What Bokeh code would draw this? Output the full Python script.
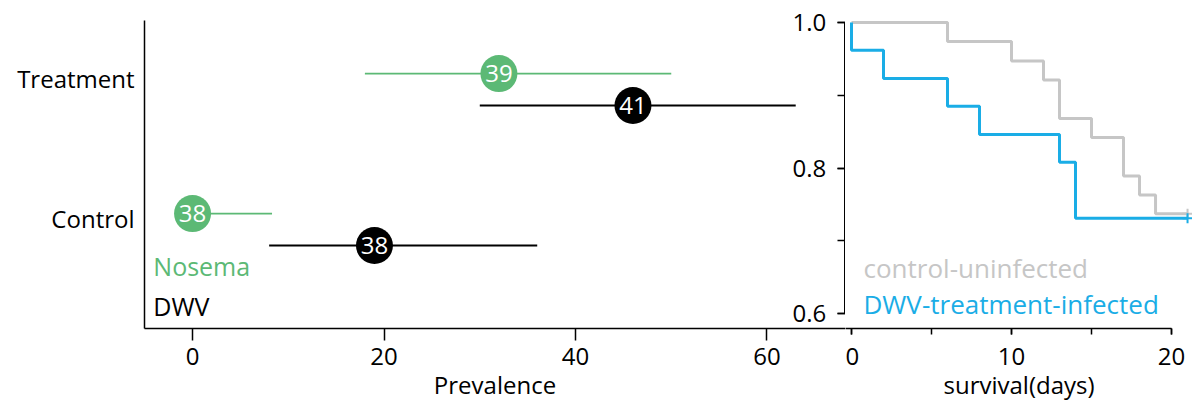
from bokeh.plotting import figure
from bokeh.models import Range1d, LinearAxis, FixedTicker, Label, ColumnDataSource, PrintfTickFormatter
from bokeh.layouts import row
from bokeh.embed import file_html
from bokeh.resources import INLINE
from bokeh.core.properties import value

# ---------------- data ----------------
groups = ["Treatment", "Control"]
group_pos = [2, 1]
nosema_mean = [32, 0]
nosema_lo = [18, 0]
nosema_hi = [50, 8.3]
nosema_n = ["39", "38"]
dwv_mean = [46, 19]
dwv_lo = [30, 8]
dwv_hi = [63, 36]
dwv_n = ["41", "38"]
prev_ticks = [0, 20, 40, 60]

ctrl_days = [0, 6, 10, 12, 13, 15, 17, 18, 19, 21]
ctrl_surv = [1.0, 0.974, 0.947, 0.921, 0.868, 0.842, 0.789, 0.763, 0.737, 0.737]
dwv_days = [0, 0, 2, 6, 8, 13, 14, 21]
dwv_surv = [1.0, 0.962, 0.923, 0.885, 0.846, 0.808, 0.731, 0.731]
surv_ticks = [0.6, 0.8, 1.0]
surv_minor = [0.6, 0.7, 0.8, 0.9, 1.0]
day_ticks = [0, 10, 20]
day_minor = [0, 5, 10, 15, 20]

GREEN = "#5cb975"
BLUE = "#1aade6"
GRAY = "#c6c6c6"
FONT = "Open Sans"
DODGE = 0.114
H = 403
BB = 75

# ---------------- left panel ----------------
pA = figure(width=845, height=H, x_range=Range1d(-5.02, 68.2), y_range=Range1d(0.293, 2.493),
            output_backend="svg", toolbar_location=None,
            min_border_left=144, min_border_right=0, min_border_top=20, min_border_bottom=BB)
pA.outline_line_color = None
pA.grid.visible = False

yg = [g + DODGE for g in group_pos]
yb = [g - DODGE for g in group_pos]
src_n = ColumnDataSource(dict(m=nosema_mean, lo=nosema_lo, hi=nosema_hi, y=yg, n=nosema_n))
src_d = ColumnDataSource(dict(m=dwv_mean, lo=dwv_lo, hi=dwv_hi, y=yb, n=dwv_n))

for src, col in ((src_n, GREEN), (src_d, "black")):
    pA.segment(x0="lo", x1="hi", y0="y", y1="y", source=src, line_color=col, line_width=1.8)
    pA.scatter(x="m", y="y", source=src, size=37, fill_color=col, line_color=None)
    pA.text(x="m", y="y", text="n", source=src, text_color="white", text_align="center",
            text_baseline="middle", text_font=value(FONT), text_font_size="24px")

xa = pA.xaxis[0]
xa.ticker = FixedTicker(ticks=prev_ticks)
xa.axis_label = "Prevalence"
xa.axis_label_text_font = FONT
xa.axis_label_text_font_style = "normal"
xa.axis_label_text_font_size = "24px"
xa.axis_label_text_color = "black"
xa.axis_label_standoff = 0
xa.major_label_text_font = FONT
xa.major_label_text_font_size = "24px"
xa.major_label_text_color = "black"
xa.major_label_standoff = 7
xa.major_tick_out = 12
xa.major_tick_in = 0
xa.minor_tick_out = 0
xa.minor_tick_in = 0
xa.axis_line_width = 1.5
xa.major_tick_line_width = 1.5

ya = pA.yaxis[0]
ya.ticker = FixedTicker(ticks=[g + 0.08 for g in group_pos])
ya.major_label_overrides = {g + 0.08: name for g, name in zip(group_pos, groups)}
ya.major_label_text_font = FONT
ya.major_label_text_font_size = "24px"
ya.major_label_text_color = "black"
ya.major_label_standoff = 10
ya.major_tick_out = 0
ya.major_tick_in = 0
ya.minor_tick_out = 0
ya.minor_tick_in = 0
ya.axis_line_width = 1.5

pA.add_layout(Label(x=-4.1, y=0.743, text="Nosema", text_color=GREEN, text_font=FONT,
                    text_font_size="25px", text_baseline="middle"))
pA.add_layout(Label(x=-4.1, y=0.457, text="DWV", text_color="black", text_font=FONT,
                    text_font_size="25px", text_baseline="middle"))

# survival y axis (shared range) on the right edge of the left figure
surv_range = Range1d(0.5794, 1.00275)
pA.extra_y_ranges = {"surv": surv_range}
sa = LinearAxis(y_range_name="surv", ticker=FixedTicker(ticks=surv_ticks, minor_ticks=surv_minor),
                formatter=PrintfTickFormatter(format="%.1f"), bounds=(0.6, 1.0))
sa.major_label_text_font = FONT
sa.major_label_text_font_size = "24px"
sa.major_label_text_color = "black"
sa.major_label_standoff = -53
sa.major_tick_in = 8
sa.major_tick_out = 0
sa.minor_tick_in = 8
sa.minor_tick_out = 0
sa.axis_line_width = 3
sa.axis_line_color = "black"
sa.major_tick_line_width = 1.5
sa.minor_tick_line_width = 1.5
sa.minor_tick_line_color = "black"
pA.add_layout(sa, "right")

# ---------------- right panel ----------------
pB = figure(width=347, height=H, x_range=Range1d(-0.375, 21.31), y_range=surv_range,
            output_backend="svg", toolbar_location=None, y_axis_location=None,
            min_border_left=0, min_border_right=0, min_border_top=20, min_border_bottom=BB)
pB.outline_line_color = None
pB.grid.visible = False
pB.background_fill_color = None
pB.border_fill_color = None

pB.step(x=ctrl_days, y=ctrl_surv, mode="after", line_color=GRAY, line_width=3)
pB.scatter(x=[ctrl_days[-1]], y=[ctrl_surv[-1]], marker="cross", size=10, line_color=GRAY, line_width=2)
pB.step(x=dwv_days, y=dwv_surv, mode="after", line_color=BLUE, line_width=3)
pB.scatter(x=[dwv_days[-1]], y=[dwv_surv[-1]], marker="cross", size=10, line_color=BLUE, line_width=2)

xb = pB.xaxis[0]
xb.ticker = FixedTicker(ticks=day_ticks, minor_ticks=day_minor)
xb.bounds = (-0.375, 20)
xb.axis_label = "survival(days)"
xb.axis_label_text_font = FONT
xb.axis_label_text_font_style = "normal"
xb.axis_label_text_font_size = "24px"
xb.axis_label_text_color = "black"
xb.axis_label_standoff = 0
xb.major_label_text_font = FONT
xb.major_label_text_font_size = "24px"
xb.major_label_text_color = "black"
xb.major_label_standoff = 13
xb.major_tick_out = 6
xb.major_tick_in = 0
xb.minor_tick_out = 6
xb.minor_tick_in = 0
xb.minor_tick_line_color = "black"
xb.axis_line_width = 1.5
xb.major_tick_line_width = 1.5
xb.minor_tick_line_width = 1.5

pB.add_layout(Label(x=0.75, y=0.6632, text="control-uninfected", text_color=GRAY, text_font=FONT,
                    text_font_size="26px", text_baseline="middle"))
pB.add_layout(Label(x=0.75, y=0.6124, text="DWV-treatment-infected", text_color=BLUE, text_font=FONT,
                    text_font_size="26px", text_baseline="middle"))

layout = row(pA, pB)
open("out.html", "w").write(file_html(layout, INLINE))
